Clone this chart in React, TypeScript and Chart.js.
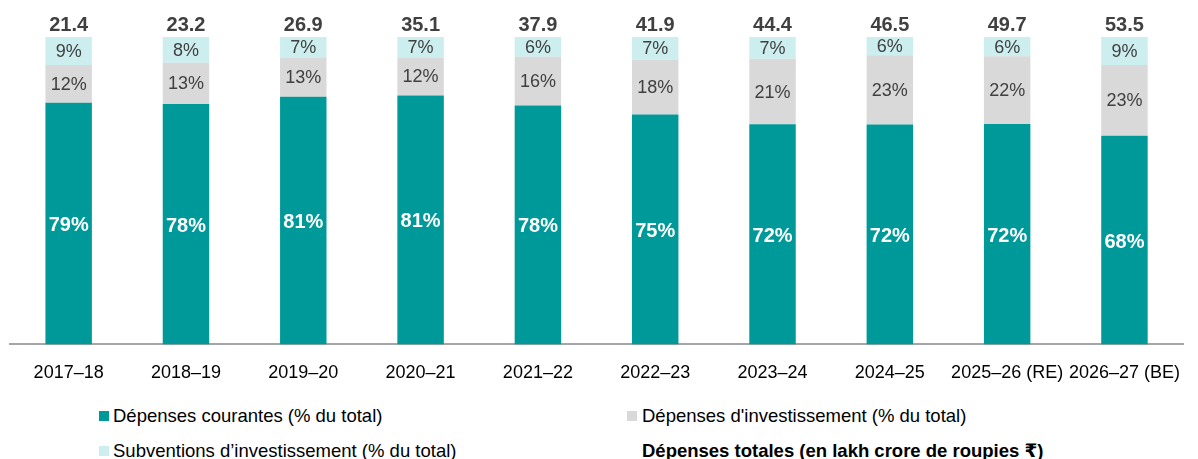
import React, { useEffect, useRef } from 'react';
import { Chart, registerables } from 'chart.js';

Chart.register(...registerables);

const categories = [
  '2017–18', '2018–19', '2019–20', '2020–21', '2021–22',
  '2022–23', '2023–24', '2024–25', '2025–26 (RE)', '2026–27 (BE)',
];
const currentPct = [78.6, 78.2, 80.6, 81.0, 77.7, 74.8, 71.6, 71.5, 71.7, 67.9];
const capitalPct = [12.3, 13.4, 12.6, 12.3, 15.9, 17.8, 21.3, 22.6, 22.0, 23.0];
const grantsPct = [9.1, 8.4, 6.8, 6.7, 6.4, 7.4, 7.1, 5.9, 6.3, 9.1];
const totals = [21.4, 23.2, 26.9, 35.1, 37.9, 41.9, 44.4, 46.5, 49.7, 53.5];

const seriesNames = [
  'Dépenses courantes (% du total)',
  "Dépenses d'investissement (% du total)",
  'Subventions d’investissement (% du total)',
];
const totalLabel = 'Dépenses totales (en lakh crore de roupies ₹)';

const TEAL = '#009999';
const GRAY = '#D9D9D9';
const CYAN = '#CDEEEF';
const DARK = '#404040';
const FONT = '"Liberation Sans", Arial, "DejaVu Sans", sans-serif';

const labelPlugin = {
  id: 'segLabels',
  afterDatasetsDraw(chart: any) {
    const ctx = chart.ctx;
    ctx.save();
    ctx.textAlign = 'center';
    ctx.textBaseline = 'middle';
    chart.data.datasets.forEach((ds: any, di: number) => {
      const meta = chart.getDatasetMeta(di);
      meta.data.forEach((el: any, i: number) => {
        const p = el.getProps(['x', 'y', 'base'], true);
        const v = ds.data[i] as number;
        if (di === 0) {
          ctx.font = `bold 20px ${FONT}`;
          ctx.fillStyle = '#FFFFFF';
          ctx.fillText(Math.round(v) + '%', p.x, (p.y + p.base) / 2 + 2);
        } else {
          ctx.font = `18px ${FONT}`;
          ctx.fillStyle = DARK;
          ctx.fillText(Math.round(v) + '%', p.x, (p.y + p.base) / 2 + 1);
        }
      });
    });
    const topMeta = chart.getDatasetMeta(chart.data.datasets.length - 1);
    ctx.font = `bold 20px ${FONT}`;
    ctx.fillStyle = DARK;
    topMeta.data.forEach((el: any, i: number) => {
      const p = el.getProps(['x', 'y'], true);
      ctx.fillText(totals[i].toFixed(1), p.x, p.y - 12);
    });
    ctx.restore();
  },
};

export default function App() {
  const ref = useRef<HTMLCanvasElement | null>(null);

  useEffect(() => {
    if (!ref.current) return;
    const chart = new Chart(ref.current, {
      type: 'bar',
      data: {
        labels: categories,
        datasets: [
          { label: seriesNames[0], data: currentPct, backgroundColor: TEAL, borderWidth: 0 },
          { label: seriesNames[1], data: capitalPct, backgroundColor: GRAY, borderWidth: 0 },
          { label: seriesNames[2], data: grantsPct, backgroundColor: CYAN, borderWidth: 0 },
        ],
      },
      options: {
        responsive: false,
        animation: false,
        devicePixelRatio: 1,
        layout: { padding: { top: 37, left: 10, right: 0, bottom: 0 } },
        datasets: { bar: { barPercentage: 0.396, categoryPercentage: 1 } },
        plugins: {
          legend: { display: false },
          tooltip: { enabled: false },
          title: { display: false },
        },
        scales: {
          x: {
            stacked: true,
            grid: { display: false, drawTicks: false },
            border: { display: true, color: '#A6A6A6', width: 2 },
            ticks: {
              autoSkip: false,
              maxRotation: 0,
              minRotation: 0,
              padding: 18,
              color: '#000000',
              font: { family: FONT, size: 18 },
            },
          },
          y: {
            stacked: true,
            display: false,
            min: 0,
            max: 100,
          },
        },
      },
      plugins: [labelPlugin],
    });
    return () => chart.destroy();
  }, []);

  const legendText: React.CSSProperties = {
    position: 'absolute',
    fontFamily: FONT,
    fontSize: 18.5,
    lineHeight: '20px',
    color: '#000',
    whiteSpace: 'nowrap',
  };
  const sq = (left: number, top: number, color: string): React.CSSProperties => ({
    position: 'absolute',
    left,
    top,
    width: 10,
    height: 10,
    background: color,
  });

  return (
    <div style={{ position: 'absolute', left: 0, top: 0, width: 1198, height: 459, background: '#fff', overflow: 'hidden' }}>
      <canvas ref={ref} width={1198} height={402} style={{ position: 'absolute', left: 0, top: 0, width: 1198, height: 402 }} />
      <div style={sq(99, 411, TEAL)} />
      <div style={{ ...legendText, left: 113, top: 406 }}>{seriesNames[0]}</div>
      <div style={sq(627, 411, GRAY)} />
      <div style={{ ...legendText, left: 642, top: 406 }}>{seriesNames[1]}</div>
      <div style={sq(99, 446, CYAN)} />
      <div style={{ ...legendText, left: 113, top: 441 }}>{seriesNames[2]}</div>
      <div style={{ ...legendText, left: 642, top: 441, fontWeight: 'bold' }}>{totalLabel}</div>
    </div>
  );
}
